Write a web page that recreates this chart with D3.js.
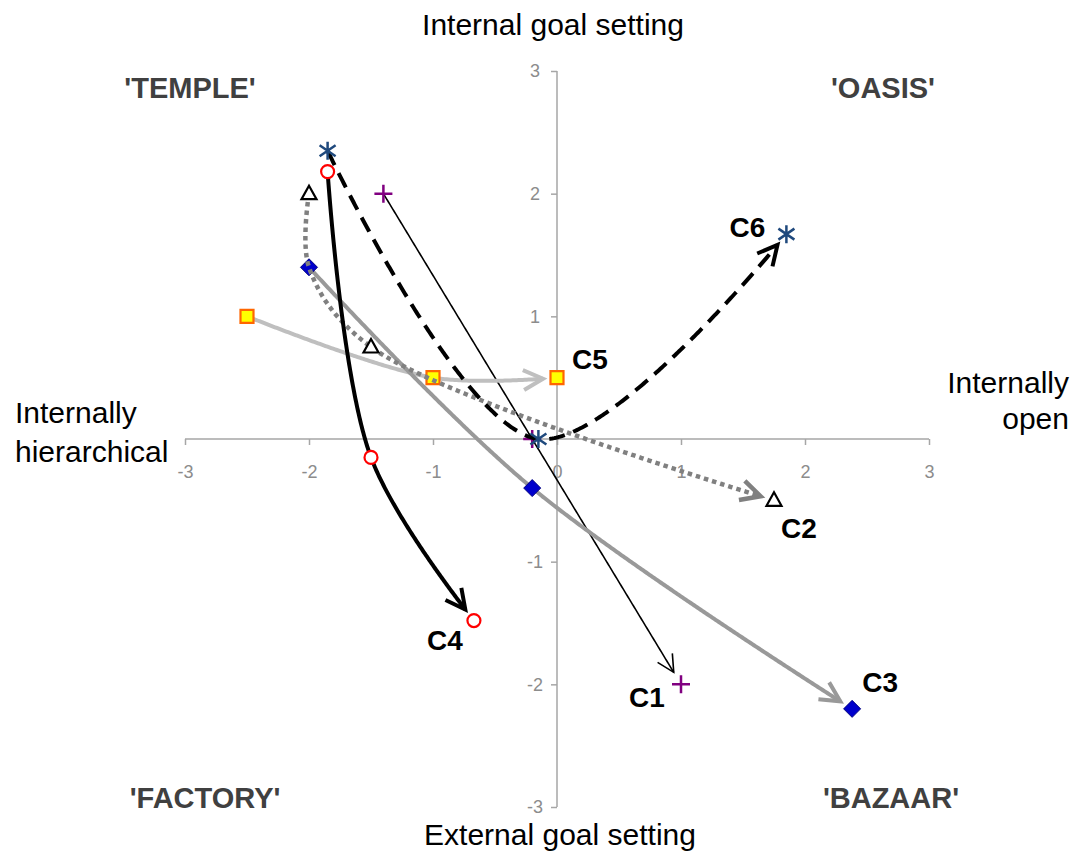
<!DOCTYPE html>
<html>
<head>
<meta charset="utf-8">
<script src="https://cdn.jsdelivr.net/npm/d3@7"></script>
<style>
	body { margin: 0; background: #fff; }
	text { font-family: "Liberation Sans", Arial, sans-serif; }
	.tick text { font-size: 18px; }
</style>
</head>
<body>
<svg id="chart" width="1074" height="855"></svg>
<script>
var width = 1074,
	height = 855;

// data (axis units -3..3)
var seriesNames = ["C1", "C5", "C3", "C2", "C4", "C6"];
var c1X = [-1.4, -0.2, 1.0],
	c1Y = [2.0, 0.0, -2.0];
var c2X = [-2.0, -2.0, -1.5, 1.75],
	c2Y = [2.0, 1.4, 0.75, -0.5];
var c3X = [-2.0, -0.2, 2.38],
	c3Y = [1.4, -0.4, -2.2];
var c4X = [-1.85, -1.5, -0.67],
	c4Y = [2.18, -0.15, -1.48];
var c5X = [-2.5, -1.0, 0.0],
	c5Y = [1.0, 0.5, 0.5];
var c6X = [-1.85, -0.15, 1.85],
	c6Y = [2.35, 0.0, 1.67];

var tickValues = [-3, -2, -1, 0, 1, 2, 3];
var quadrantLabels = ["'TEMPLE'", "'OASIS'", "'FACTORY'", "'BAZAAR'"];
var axisTitleTop = "Internal goal setting",
	axisTitleBottom = "External goal setting",
	axisTitleLeft = ["Internally", "hierarchical"],
	axisTitleRight = ["Internally", "open"];

var seriesData = {
	C1: { x: c1X, y: c1Y },
	C2: { x: c2X, y: c2Y },
	C3: { x: c3X, y: c3Y },
	C4: { x: c4X, y: c4Y },
	C5: { x: c5X, y: c5Y },
	C6: { x: c6X, y: c6Y }
};

// look of each series
var styles = {
	C1: { color: "#000", width: 1.6, dash: null, marker: "plus", mColor: "#800080", arrow: 19, lab: [-34, 23] },
	C2: { color: "#808080", width: 4.5, dash: "4.5,4", marker: "triangle", mColor: "#000", arrow: 22, lab: [25, 38], skip: [1] },
	C3: { color: "#999", width: 4, dash: null, marker: "diamond", mColor: "#0000cc", arrow: 22, lab: [28, -17] },
	C4: { color: "#000", width: 4, dash: null, marker: "circle", mColor: "#ff0000", arrow: 22, lab: [-29, 29] },
	C5: { color: "#bfbfbf", width: 4, dash: null, marker: "square", mColor: "#ff6600", arrow: 22, lab: [33, -9] },
	C6: { color: "#000", width: 4, dash: "16,9", marker: "asterisk", mColor: "#1f497d", arrow: 22, lab: [-39, 3] }
};

var x = d3.scaleLinear().domain([-3, 3]).range([185, 929]);
var y = d3.scaleLinear().domain([-3, 3]).range([807, 71]);

var svg = d3.select("#chart");

/* ------- AXES -------*/
var axisColor = "#a6a6a6",
	tickTextColor = "#8c8c8c";
var tickFmt = function (v) { return String(v); };

var xAxis = svg.append("g")
	.attr("transform", "translate(0," + y(0) + ")")
	.call(d3.axisBottom(x).tickValues(tickValues).tickFormat(tickFmt).tickSize(6).tickSizeOuter(0).tickPadding(20));
var yAxis = svg.append("g")
	.attr("transform", "translate(" + x(0) + ",0)")
	.call(d3.axisLeft(y).tickValues(tickValues.filter(function (v) { return v != 0; })).tickFormat(tickFmt).tickSize(6).tickSizeOuter(0));

[xAxis, yAxis].forEach(function (g) {
	g.attr("font-size", 18).attr("font-family", "'Liberation Sans', Arial, sans-serif");
	g.select(".domain").attr("stroke", axisColor).attr("stroke-width", 1.5);
	g.selectAll(".tick line").attr("stroke", axisColor).attr("stroke-width", 1.5);
	g.selectAll(".tick text").attr("fill", tickTextColor).attr("font-size", 18);
});
yAxis.selectAll(".tick text").attr("text-anchor", "middle").attr("x", -22);
yAxis.select(".domain").attr("d", "M0," + y(3) + "V" + y(-3));
xAxis.select(".domain").attr("d", "M" + x(-3) + ",0H" + x(3));

/* ------- TITLES -------*/
svg.append("text").attr("x", 553).attr("y", 35).attr("text-anchor", "middle")
	.style("font-size", "30px").text(axisTitleTop);
svg.append("text").attr("x", 560).attr("y", 845).attr("text-anchor", "middle")
	.style("font-size", "30px").text(axisTitleBottom);
axisTitleLeft.forEach(function (t, i) {
	svg.append("text").attr("x", 15).attr("y", 423 + i * 39)
		.style("font-size", "30px").text(t);
});
axisTitleRight.forEach(function (t, i) {
	svg.append("text").attr("x", 1069).attr("y", 393 + i * 36).attr("text-anchor", "end")
		.style("font-size", "30px").text(t);
});

var quadPos = [[190, 98], [883, 98], [205, 808], [891, 808]];
quadrantLabels.forEach(function (t, i) {
	svg.append("text").attr("x", quadPos[i][0]).attr("y", quadPos[i][1])
		.attr("text-anchor", "middle")
		.attr("fill", "#404040")
		.style("font-size", "29px").style("font-weight", "bold")
		.text(t);
});

/* ------- SERIES -------*/
var curve = d3.line().curve(d3.curveCatmullRom.alpha(0.5));
var straight = d3.line();
var gap = 14;

function markerPath(type) {
	if (type == "plus") return "M-9,0H9M0,-9V9";
	if (type == "asterisk") return "M0,-9V9M-8,-5.5L8,5.5M-8,5.5L8,-5.5";
	if (type == "triangle") return "M0,-8L7.5,5.5H-7.5Z";
	if (type == "diamond") return "M0,-8.5L8.5,0L0,8.5L-8.5,0Z";
	if (type == "square") return "M-6.5,-6.5H6.5V6.5H-6.5Z";
	return "M6.5,0A6.5,6.5 0 1,1 -6.5,0A6.5,6.5 0 1,1 6.5,0Z";
}

seriesNames.forEach(function (name) {
	var d = seriesData[name], s = styles[name];
	var pts = d.x.map(function (v, i) { return [x(v), y(d.y[i])]; });
	var g = svg.append("g").attr("class", "series " + name);

	// full smooth path, then cut it short so the arrow tip stops before the last marker
	var tmp = g.append("path").attr("d", curve(pts));
	var node = tmp.node(), L = node.getTotalLength();
	var cut = [];
	for (var t = 0; t < L - gap; t += 2) {
		var p = node.getPointAtLength(t);
		cut.push([p.x, p.y]);
	}
	var e = node.getPointAtLength(L - gap),
		b = node.getPointAtLength(L - gap - 5);
	cut.push([e.x, e.y]);
	tmp.remove();

	g.append("path")
		.attr("d", straight(cut))
		.attr("fill", "none")
		.attr("stroke", s.color)
		.attr("stroke-width", s.width)
		.attr("stroke-dasharray", s.dash)
		.attr("stroke-linejoin", "round");

	var ang = Math.atan2(e.y - b.y, e.x - b.x),
		half = 27 * Math.PI / 180,
		len = s.arrow;
	var a1 = [e.x - len * Math.cos(ang - half), e.y - len * Math.sin(ang - half)],
		a2 = [e.x - len * Math.cos(ang + half), e.y - len * Math.sin(ang + half)];
	g.append("path")
		.attr("d", "M" + a1 + "L" + [e.x, e.y] + "L" + a2)
		.attr("fill", "none")
		.attr("stroke", s.color)
		.attr("stroke-width", s.width)
		.attr("stroke-linejoin", "miter");

	// markers
	pts.forEach(function (p, i) {
		if (s.skip && s.skip.indexOf(i) >= 0) return;
		var m = g.append("path")
			.attr("d", markerPath(s.marker))
			.attr("transform", "translate(" + p + ")");
		if (s.marker == "plus" || s.marker == "asterisk") {
			m.attr("fill", "none").attr("stroke", s.mColor).attr("stroke-width", 2.5);
		} else if (s.marker == "diamond") {
			m.attr("fill", s.mColor).attr("stroke", "#000080").attr("stroke-width", 1);
		} else if (s.marker == "square") {
			m.attr("fill", "#ffff00").attr("stroke", s.mColor).attr("stroke-width", 2.2);
		} else {
			m.attr("fill", "#fff").attr("stroke", s.mColor).attr("stroke-width", 2.2);
		}
	});

	// series label next to the last point
	var last = pts[pts.length - 1];
	svg.append("text")
		.attr("x", last[0] + s.lab[0])
		.attr("y", last[1] + s.lab[1])
		.attr("text-anchor", "middle")
		.style("font-size", "28px").style("font-weight", "bold")
		.text(name);
});
</script>
</body>
</html>
